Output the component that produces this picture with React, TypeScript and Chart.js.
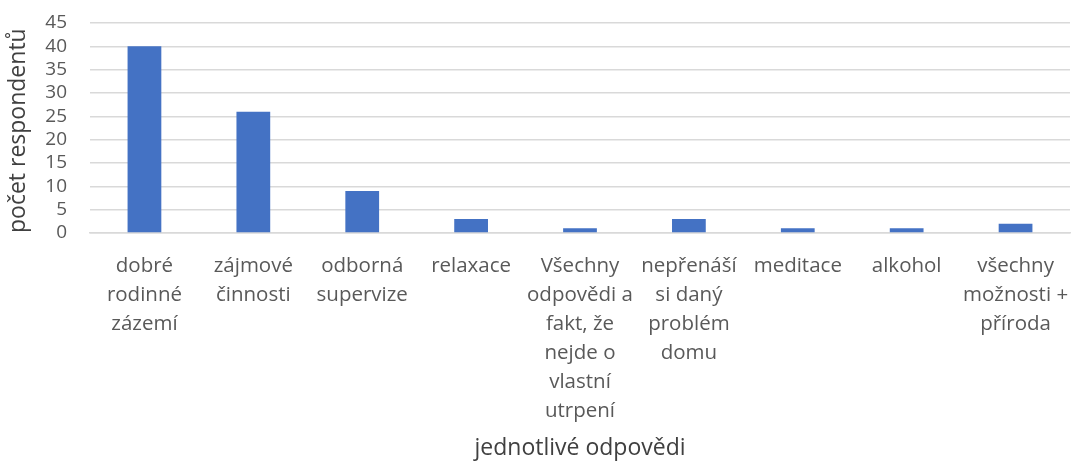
import React, { useEffect, useRef } from "react";
import { Chart, registerables } from "chart.js";

Chart.register(...registerables);

const categories: string[][] = [
  ["dobré", "rodinné", "zázemí"],
  ["zájmové", "činnosti"],
  ["odborná", "supervize"],
  ["relaxace"],
  ["Všechny", "odpovědi a", "fakt, že", "nejde o", "vlastní", "utrpení"],
  ["nepřenáší", "si daný", "problém", "domu"],
  ["meditace"],
  ["alkohol"],
  ["všechny", "možnosti +", "příroda"],
];
const values: number[] = [40, 26, 9, 3, 1, 3, 1, 1, 2];
const yTicks = { min: 0, max: 45, step: 5 };
const xTitle = "jednotlivé odpovědi";
const yTitle = "počet respondentů";

const FONT = "'Open Sans', 'Liberation Sans', sans-serif";

export default function App() {
  const ref = useRef<HTMLCanvasElement | null>(null);
  useEffect(() => {
    document.body.style.margin = "0";
    const ctx = ref.current!;
    const chart = new Chart(ctx, {
      type: "bar",
      data: {
        labels: categories,
        datasets: [
          {
            data: values,
            backgroundColor: "#4472C4",
            barPercentage: 0.62,
            categoryPercentage: 0.5,
          },
        ],
      },
      options: {
        animation: false,
        responsive: false,
        maintainAspectRatio: false,
        layout: { padding: { left: 0, right: 4, top: 23, bottom: 0 } },
        plugins: { legend: { display: false }, tooltip: { enabled: false } },
        scales: {
          x: {
            grid: { display: false, drawTicks: false },
            border: { color: "#d9d9d9", width: 1.5 },
            afterFit: (s: any) => {
              s.height = 230;
              s.paddingLeft = 0;
              s.paddingRight = 0;
            },
            ticks: {
              color: "#595959",
              font: { family: FONT, size: 20.5, lineHeight: 1.41 },
              maxRotation: 0,
              minRotation: 0,
              autoSkip: false,
              padding: 19,
            },
            title: {
              display: true,
              text: xTitle,
              color: "#404040",
              font: { family: FONT, size: 23 },
              padding: { top: 0, bottom: 1 },
            },
          },
          y: {
            min: yTicks.min,
            max: yTicks.max,
            grid: { color: "#d9d9d9", lineWidth: 1.5, drawTicks: false },
            border: { display: false },
            afterFit: (s: any) => {
              s.width = 90;
              s.paddingTop = 0;
              s.paddingBottom = 0;
            },
            ticks: {
              stepSize: yTicks.step,
              autoSkip: false,
              color: "#595959",
              font: { family: FONT, size: 19 },
              padding: 23,
            },
            title: {
              display: true,
              text: yTitle,
              align: "start",
              color: "#404040",
              font: { family: FONT, size: 23 },
              padding: { top: 5, bottom: 0 },
            },
          },
        },
      },
    });
    return () => chart.destroy();
  }, []);
  return <canvas ref={ref} width={1074} height={463} style={{ display: "block" }} />;
}
